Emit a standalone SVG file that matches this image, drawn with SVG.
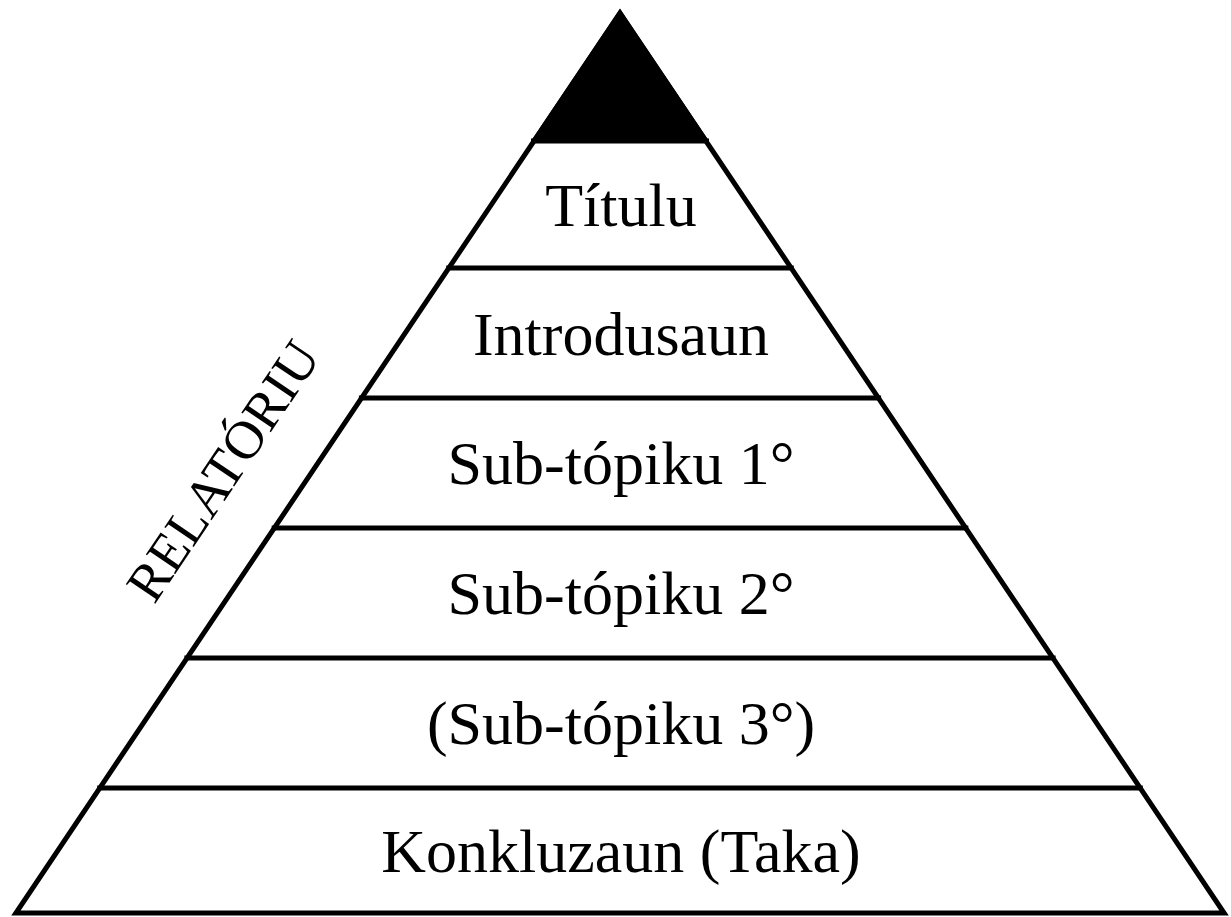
<svg xmlns="http://www.w3.org/2000/svg" width="1231" height="917" viewBox="0 0 1231 917">
<style>
.edge{fill:none;stroke:#000;stroke-width:5;stroke-linejoin:miter}
.lbl{font-family:"Liberation Serif","Times New Roman",serif;font-size:62px;fill:#000;text-anchor:middle}
.side{font-family:"Liberation Serif","Times New Roman",serif;font-size:54px;fill:#000;text-anchor:middle}
</style>
<rect width="1231" height="917" fill="#fff"/>
<g id="apex"><polygon points="620,9 531,141 709,141" fill="#000"/></g>
<g id="connectors">
<polygon class="edge" points="620,13 15.9,913 1224.1,913"/>
<line class="edge" x1="531" y1="141" x2="709" y2="141"/>
<line class="edge" x1="446.2" y1="268" x2="793.8" y2="268"/>
<line class="edge" x1="358.9" y1="398" x2="881.1" y2="398"/>
<line class="edge" x1="271.7" y1="528" x2="968.3" y2="528"/>
<line class="edge" x1="184.4" y1="658" x2="1055.6" y2="658"/>
<line class="edge" x1="97.2" y1="788" x2="1142.8" y2="788"/>
</g>
<g id="titulu"><text class="lbl" x="621" y="226">Títulu</text></g>
<g id="introdusaun"><text class="lbl" x="621" y="355">Introdusaun</text></g>
<g id="subtopiku1"><text class="lbl" x="621" y="484">Sub-tópiku 1°</text></g>
<g id="subtopiku2"><text class="lbl" x="621" y="614">Sub-tópiku 2°</text></g>
<g id="subtopiku3"><text class="lbl" x="621" y="744">(Sub-tópiku 3°)</text></g>
<g id="konkluzaun"><text class="lbl" x="621" y="872">Konkluzaun (Taka)</text></g>
<g id="relatoriu"><text class="side" transform="translate(238,481) rotate(-56)">RELATÓRIU</text></g>
</svg>
